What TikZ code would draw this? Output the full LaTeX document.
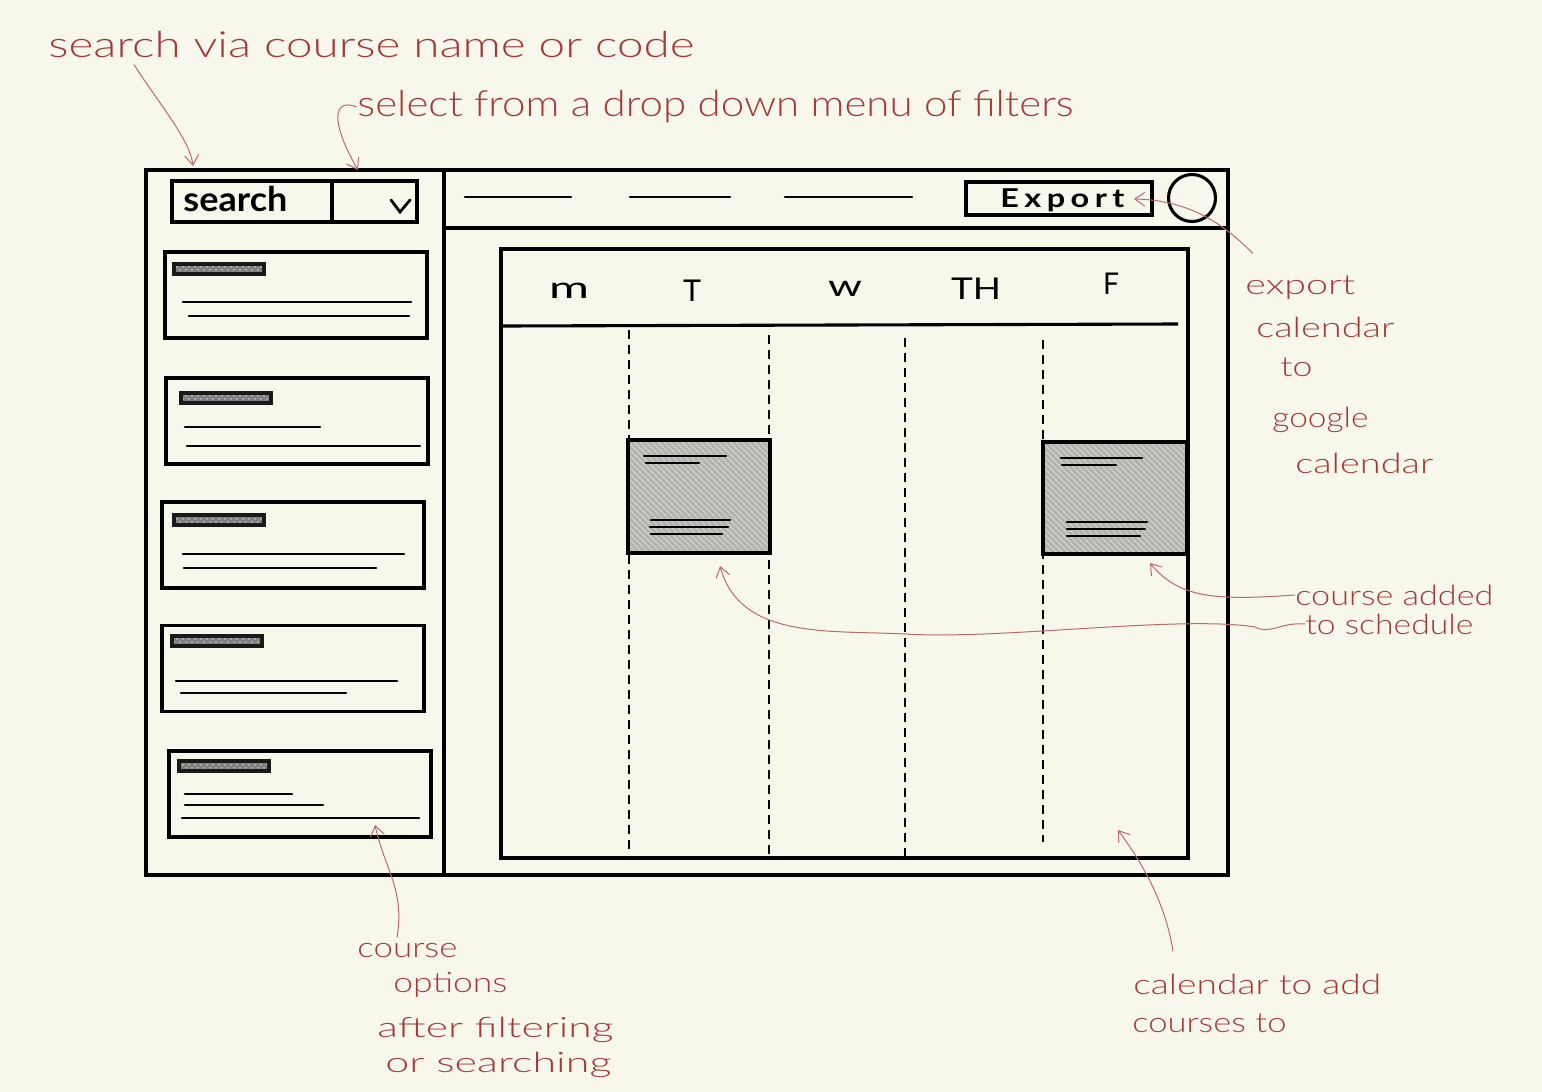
\documentclass[tikz,border=0pt]{standalone}
\usepackage{fontspec}
\setmainfont{Lato}
\newfontfamily\handfont{Lato Light}
\usetikzlibrary{arrows.meta,patterns}

\definecolor{paper}{HTML}{F7F7EC}
\definecolor{inkred}{HTML}{A23A3A}
\definecolor{inkblock}{HTML}{B4B4AF}

% stretch a text to a given width, keep its height
\newcommand{\scrawl}[2]{\resizebox{#1}{\height}{#2}}

\tikzset{
  wire/.style={draw=black, line width=1.55pt, inner sep=0pt},
  pen/.style={black, line width=1.3pt, line cap=round},
  note/.style={anchor=west, inner sep=0pt, text=inkred, font=\handfont\fontsize{14}{14}\selectfont},
  bignote/.style={note, font=\handfont\fontsize{18}{18}\selectfont},
  day/.style={inner sep=0pt, font=\fontsize{15}{15}\selectfont},
  notearrow/.style={draw=inkred!75, line width=0.5pt, -{Straight Barb[length=5pt,width=7pt]}},
  dayline/.style={black, line width=1pt, dash pattern=on 4.5pt off 3pt},
  block/.style={wire, preaction={fill=inkblock}, pattern=north west lines, pattern color=white!45!inkblock},
  tagbar/.style={draw=black!90, line width=1.6pt, preaction={fill=black!50}, inner sep=0pt, minimum width=45pt, minimum height=5pt, pattern=crosshatch dots, pattern color=black!25},
  cardbox/.style={wire, minimum width=131pt, minimum height=43pt}
}

\begin{document}
\begin{tikzpicture}[x=0.5pt, y=-0.5pt]

  % page
  \path[fill=paper, use as bounding box] (0,0) rectangle (1542,1092);

  % window frame
  \node[wire, minimum width=541pt, minimum height=352.5pt] (frame) at (687,522.5) {};
  \draw[wire] (444,170) -- (444,875);
  \draw[wire] (444,228) -- (1228,228);

  % search bar
  \node[wire, minimum width=122.5pt, minimum height=20.5pt] (searchbox) at (294.5,201.5) {};
  \draw[wire] (332,181) -- (332,222);
  \node[inner sep=0pt, anchor=west, font=\fontsize{17}{17}\selectfont\bfseries] (searchtext) at (183,199) {\scrawl{52pt}{search}};
  \draw[pen, line width=1.4pt] (391,200) -- (400,212) -- (410,200);

  % top bar
  \foreach \a/\b in {465/571, 630/730, 785/912} {
      \draw[pen] (\a,197) -- (\b,197);
  }
  \node[wire, minimum width=93pt, minimum height=16.5pt] (exportbox) at (1059,198.5) {};
  \node[inner sep=0pt, anchor=west, font=\fontsize{13}{13}\selectfont\bfseries] (exporttext) at (1000,200) {\scrawl{62pt}{E\,x\,p\,o\,r\,t}};
  \node[wire, circle, minimum size=23.5pt] (avatar) at (1192,198) {};

  % course cards
  \foreach \i/\cx/\cy/\tx/\ty in {1/296/295/219/269, 2/297/421/226/398, 3/293/545/219/520, 4/293/668.5/217/641, 5/300/794/224/766} {
      \node[cardbox] (card\i) at (\cx,\cy) {};
      \node[tagbar] (tag\i) at (\tx,\ty) {};
  }
  \foreach \a/\b/\c in {183/411/302, 189/409/316, 185/320/427, 187/420/446, 183/404/554, 184/376/568, 176/397/681, 181/346/693, 185/292/794, 185/323/805, 182/419/818} {
      \draw[pen] (\a,\c) -- (\b,\c);
  }

  % calendar
  \node[wire, minimum width=343.5pt, minimum height=304.5pt] (calendar) at (844.5,553.5) {};
  \draw[wire] (503,326) -- (1178,324);
  \foreach \name/\x/\y/\w/\txt in {mon/569/291/20pt/m, tue/692/291/9pt/T, wed/845/289/17pt/w, thu/976/289/25pt/TH, fri/1111/284/8pt/F} {
      \node[day] (\name) at (\x,\y) {\scrawl{\w}{\txt}};
  }
  \foreach \x/\a/\b in {629/330/852, 769/335/856, 905/338/856, 1043/340/842} {
      \draw[dayline] (\x,\a) -- (\x,\b);
  }

  % blocks added to the calendar
  \node[block, minimum width=71pt, minimum height=56.5pt] (blocka) at (699,496.5) {};
  \node[block, minimum width=72pt, minimum height=56pt] (blockb) at (1115,498) {};
  \foreach \a/\b/\c in {644/726/456, 646/699/463, 651/730/520, 650/728/527, 651/722/534, 1061/1142/458, 1062/1116/465, 1067/1147/522, 1067/1145/529, 1067/1140/536} {
      \draw[pen] (\a,\c) -- (\b,\c);
  }

  % notes
  \node[bignote] (searchnote) at (48,45) {\scrawl{323pt}{search via course name or code}};
  \node[bignote] (selectnote) at (357,107) {\scrawl{358pt}{select from a drop down menu of filters}};

  \node[note] (exporta) at (1245,288) {\scrawl{55pt}{export}};
  \node[note] (exportb) at (1256,327) {\scrawl{69pt}{calendar}};
  \node[note] (exportc) at (1280,367) {\scrawl{16pt}{to}};
  \node[note] (exportd) at (1272,420) {\scrawl{48pt}{google}};
  \node[note] (exporte) at (1295,463) {\scrawl{69pt}{calendar}};

  \node[note] (addeda) at (1295,595) {\scrawl{99pt}{course added}};
  \node[note] (addedb) at (1305,624) {\scrawl{84pt}{to schedule}};

  \node[note] (optiona) at (357,951) {\scrawl{50pt}{course}};
  \node[note] (optionb) at (393,985) {\scrawl{57pt}{options}};
  \node[note] (optionc) at (377,1030) {\scrawl{118pt}{after filtering}};
  \node[note] (optiond) at (385,1065) {\scrawl{113pt}{or searching}};

  \node[note] (calnotea) at (1133,984) {\scrawl{124pt}{calendar to add}};
  \node[note] (calnoteb) at (1132,1023) {\scrawl{77pt}{courses to}};

  % arrow ends
  \coordinate (searchtip) at (193,166);
  \coordinate (selecttip) at (358,170);
  \coordinate (exporttip) at (1134,199);
  \coordinate (blockatip) at (720,566);
  \coordinate (blockbtip) at (1150,563);
  \coordinate (cardtip) at (375,825);
  \coordinate (caltip) at (1118,830);

  \draw[notearrow] ([xshift=43pt,yshift=-3pt]searchnote.south west) .. controls (160,105) and (190,140) .. (searchtip);
  \draw[notearrow] (selectnote.west) .. controls (335,98) and (328,118) .. (selecttip);
  \draw[notearrow] ([xshift=4pt,yshift=11pt]exporta.north west) .. controls (1225,225) and (1190,200) .. (exporttip);
  \draw[notearrow] (addeda.west) .. controls (1220,600) and (1180,600) .. (blockbtip);
  \draw[notearrow] (addedb.west) .. controls (1280,622) and (1270,635) .. (1255,627)
      .. controls (1180,615) and (1000,640) .. (905,634)
      .. controls (830,630) and (740,640) .. (blockatip);
  \draw[notearrow] ([xshift=20pt,yshift=3pt]optiona.north west) .. controls (405,890) and (385,870) .. (cardtip);
  \draw[notearrow] ([xshift=20pt,yshift=11pt]calnotea.north west) .. controls (1165,900) and (1140,860) .. (caltip);

\end{tikzpicture}
\end{document}
